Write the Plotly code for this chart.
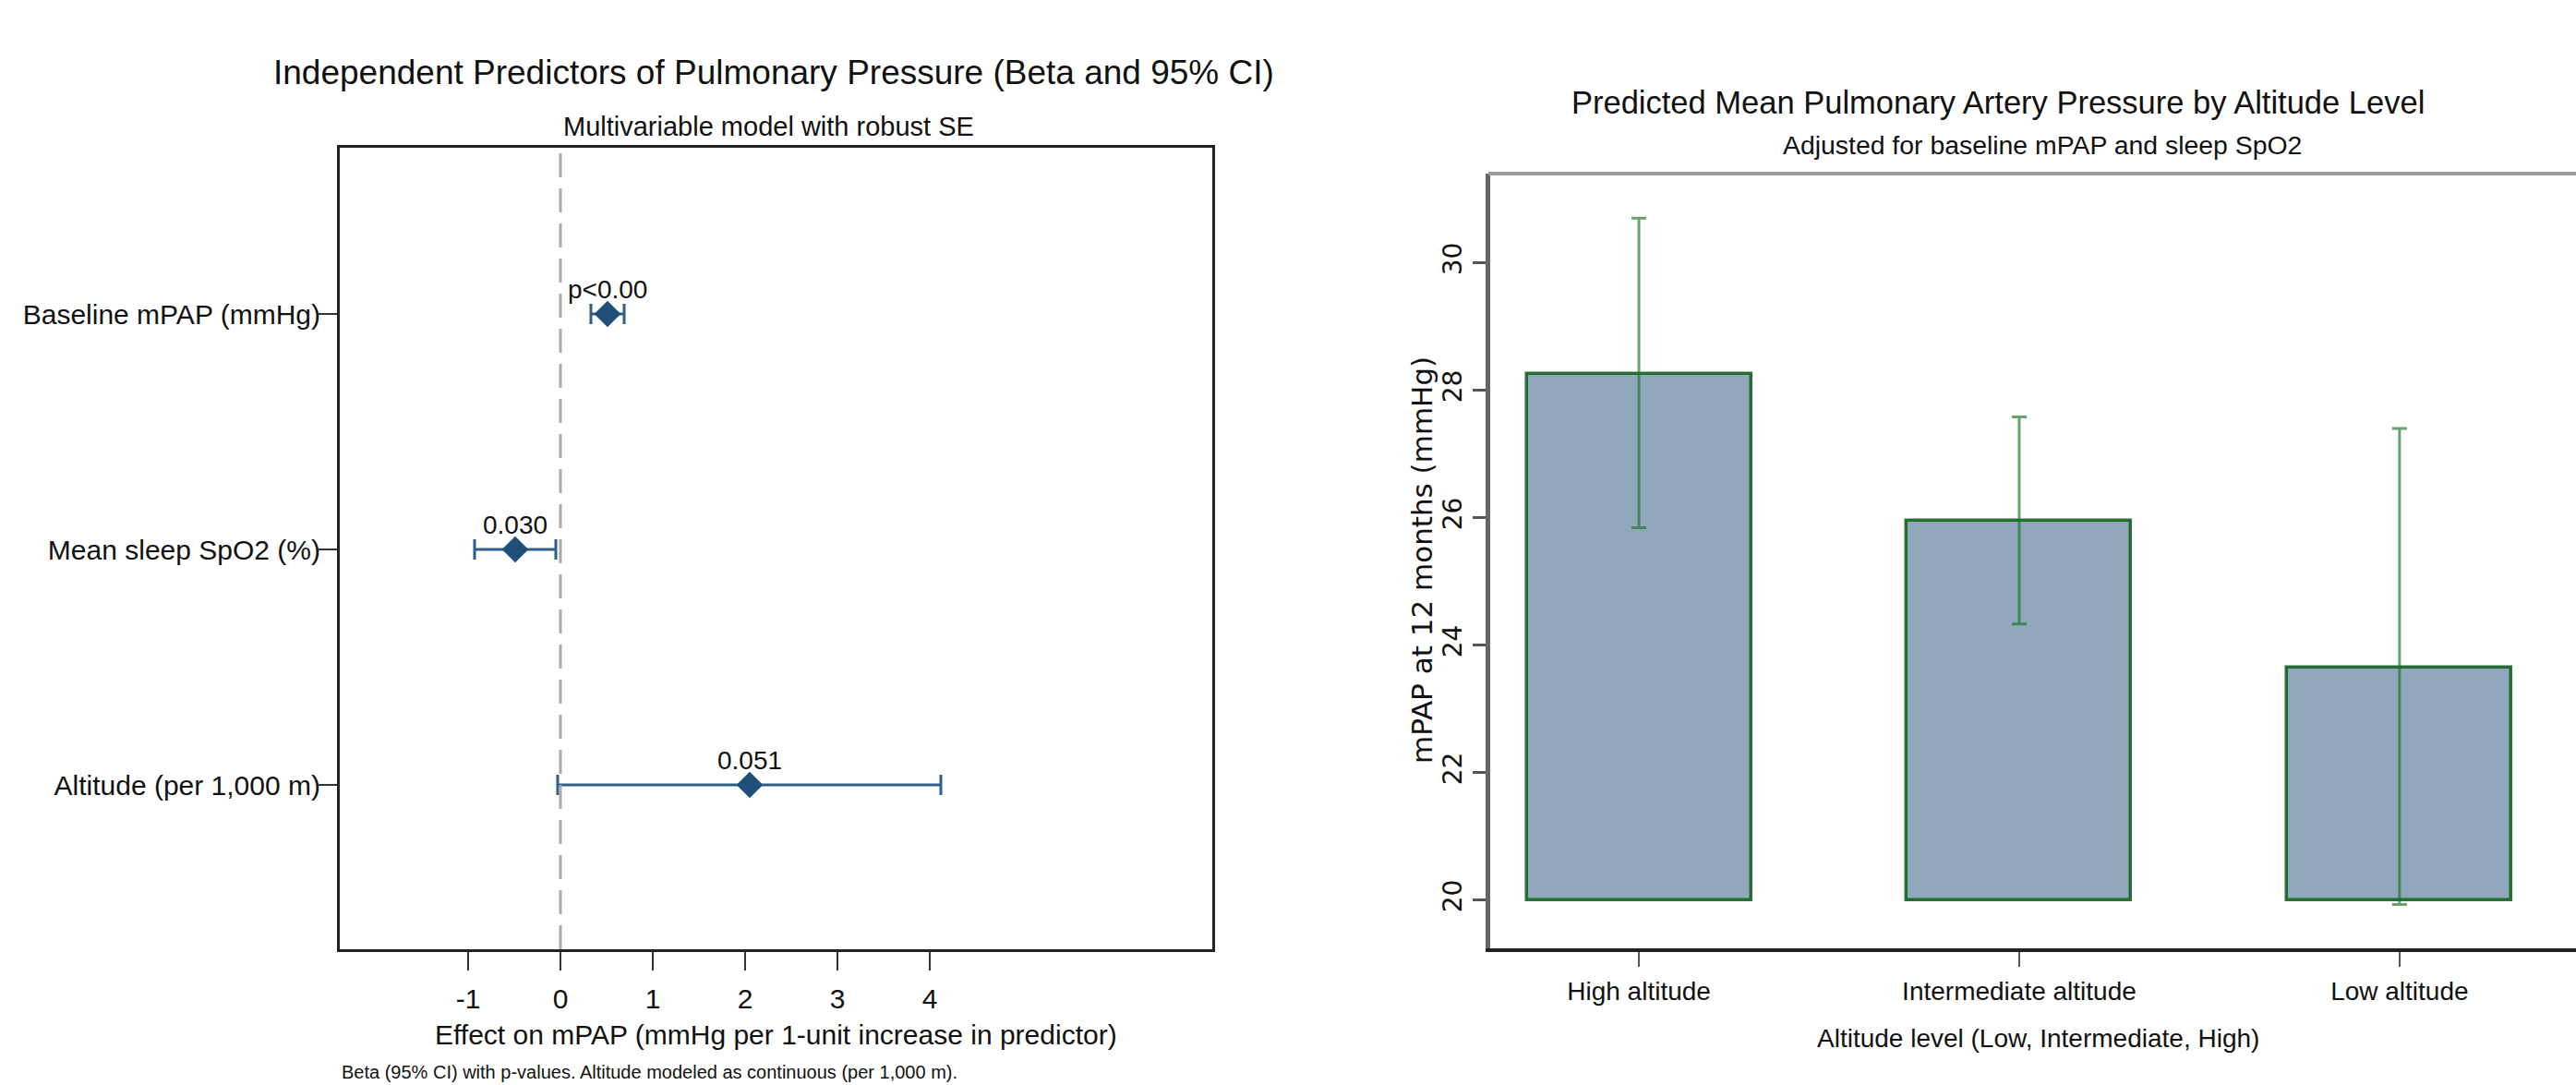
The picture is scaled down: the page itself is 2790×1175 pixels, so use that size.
import plotly.graph_objects as go

# ---------------- data ----------------
predictors = ["Baseline mPAP (mmHg)", "Mean sleep SpO2 (%)", "Altitude (per 1,000 m)"]
beta = [0.51, -0.49, 2.05]
ci_low = [0.33, -0.93, -0.03]
ci_high = [0.69, -0.05, 4.12]
p_labels = ["p<0.00", "0.030", "0.051"]
x_ticks = [-1, 0, 1, 2, 3, 4]
x_tick_text = ["-1", "0", "1", "2", "3", "4"]

altitude_levels = ["High altitude", "Intermediate altitude", "Low altitude"]
pred_mean = [28.25, 25.95, 23.65]
pred_low = [25.84, 24.33, 19.93]
pred_high = [30.70, 27.58, 27.40]
bar_base = 20
y2_ticks = [20, 22, 24, 26, 28, 30]

W, H = 2790, 1175
FONT = "Liberation Sans, Arial, Helvetica, sans-serif"
DJV = "DejaVu Sans, sans-serif"


def px_x(p):
    return p / W


def px_y(p):
    return (H - p) / H


fig = go.Figure()

# ---------------- left: forest plot ----------------
fig.add_trace(go.Scatter(
    x=beta, y=predictors, mode="markers",
    marker=dict(symbol="diamond", size=22, color="#1f4e79"),
    error_x=dict(type="data", symmetric=False,
                 array=[h - b for h, b in zip(ci_high, beta)],
                 arrayminus=[b - l for b, l in zip(beta, ci_low)],
                 color="#2d5f8b", thickness=3, width=11),
    xaxis="x", yaxis="y", showlegend=False, hoverinfo="skip"))

for b, pr, lab in zip(beta, predictors, p_labels):
    fig.add_annotation(x=b, y=pr, xref="x", yref="y", text=lab, showarrow=False,
                       yshift=27, font=dict(family=FONT, size=28, color="#111"))

fig.add_shape(type="line", xref="x", yref="y domain", x0=0, x1=0, y0=0, y1=1,
              line=dict(color="#aaaaaa", width=3, dash="26px,12px"))

# ---------------- right: bar chart ----------------
fig.add_trace(go.Bar(
    x=altitude_levels, y=[m - bar_base for m in pred_mean], base=bar_base,
    width=0.59,
    marker=dict(color="#91a7bb", line=dict(color="rgba(18,100,32,0.9)", width=3.5)),
    xaxis="x2", yaxis="y2", showlegend=False, hoverinfo="skip"))

fig.add_trace(go.Scatter(
    x=altitude_levels, y=pred_mean, mode="markers",
    marker=dict(size=1, color="rgba(0,0,0,0)"),
    error_y=dict(type="data", symmetric=False,
                 array=[h - m for h, m in zip(pred_high, pred_mean)],
                 arrayminus=[m - l for m, l in zip(pred_mean, pred_low)],
                 color="rgba(28,118,40,0.68)", thickness=3, width=8),
    xaxis="x2", yaxis="y2", showlegend=False, hoverinfo="skip"))

# top border of right panel (runs off the image edge)
fig.add_shape(type="line", xref="paper", yref="paper",
              x0=px_x(1612), x1=1.05, y0=px_y(188), y1=px_y(188),
              line=dict(color="#9a9a9a", width=4))

# ---------------- text ----------------
ann = [
    dict(x=px_x(838), y=px_y(78), text="Independent Predictors of Pulmonary Pressure (Beta and 95% CI)",
         font=dict(size=37)),
    dict(x=px_x(832), y=px_y(137), text="Multivariable model with robust SE", font=dict(size=29)),
    dict(x=px_x(840), y=px_y(1120), text="Effect on mPAP (mmHg per 1-unit increase in predictor)",
         font=dict(size=30)),
    dict(x=px_x(2164), y=px_y(111), text="Predicted Mean Pulmonary Artery Pressure by Altitude Level",
         font=dict(size=34.5)),
    dict(x=px_x(2212), y=px_y(157), text="Adjusted for baseline mPAP and sleep SpO2", font=dict(size=28.4)),
    dict(x=px_x(2207), y=px_y(1124), text="Altitude level (Low, Intermediate, High)", font=dict(size=28)),
]
for a in ann:
    a["font"].update(family=FONT, color="#111")
    fig.add_annotation(xref="paper", yref="paper", showarrow=False, xanchor="center",
                       yanchor="middle", **a)

fig.add_annotation(xref="paper", yref="paper", x=px_x(1540), y=px_y(607), textangle=-90,
                   text="mPAP at 12 months (mmHg)", showarrow=False,
                   font=dict(family=DJV, size=31, color="#111"))

fig.add_annotation(xref="paper", yref="paper", x=px_x(368), y=px_y(1174), xanchor="left",
                   yanchor="bottom", showarrow=False,
                   text="Beta (95% CI) with p-values. Altitude modeled as continuous (per 1,000 m).",
                   font=dict(family=FONT, size=20, color="#111"))

# ---------------- layout ----------------
fig.update_layout(
    width=W, height=H, margin=dict(l=0, r=0, t=0, b=0),
    paper_bgcolor="white", plot_bgcolor="white", template="none",
    font=dict(family=FONT, color="#111"),
    xaxis=dict(domain=[px_x(368), px_x(1313)], range=[-2.39, 7.06],
               tickvals=x_ticks, ticktext=x_tick_text,
               ticks="outside", ticklen=20, tickwidth=2, tickcolor="#333",
               showline=True, linecolor="#222", linewidth=3, mirror=True,
               showgrid=False, zeroline=False, automargin=False,
               tickfont=dict(size=30), ticklabelstandoff=5, anchor="y"),
    yaxis=dict(domain=[px_y(1028), px_y(160)], type="category",
               categoryorder="array", categoryarray=predictors,
               range=[2.698, -0.706], ticks="outside", ticklen=20, tickwidth=2, tickcolor="#333",
               showline=True, linecolor="#222", linewidth=3, mirror=True,
               showgrid=False, zeroline=False, automargin=False,
               tickfont=dict(size=30), ticklabelstandoff=-8, anchor="x"),
    xaxis2=dict(domain=[px_x(1614), 1.0], type="category", categoryorder="array",
                categoryarray=altitude_levels, range=[-0.391, 2.464],
                ticks="outside", ticklen=16, tickwidth=2, tickcolor="#555",
                showline=True, linecolor="#222", linewidth=4, mirror=False,
                showgrid=False, zeroline=False, automargin=False,
                tickfont=dict(size=28), ticklabelstandoff=2, anchor="y2"),
    yaxis2=dict(domain=[px_y(1027), px_y(188)], range=[19.24, 31.40], tickvals=y2_ticks,
                ticks="outside", ticklen=14, tickwidth=3, tickcolor="#555",
                showline=True, linecolor="#666", linewidth=5, mirror=False,
                showgrid=False, zeroline=False, automargin=False,
                tickangle=-90, tickfont=dict(family=DJV, size=28), ticklabelstandoff=1,
                anchor="x2"),
    bargap=0,
)

fig.write_html(
    "out.html",
    config={"displayModeBar": False},
    post_script="document.body.style.margin='0';document.body.style.padding='0';"
                "document.body.style.overflow='hidden';",
)
